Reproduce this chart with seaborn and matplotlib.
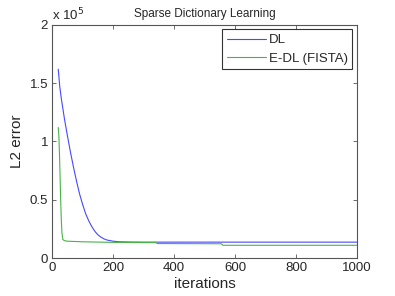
import numpy as np
import pandas as pd
import matplotlib
matplotlib.use("Agg")
import matplotlib.pyplot as plt
import seaborn as sns
from matplotlib.ticker import FuncFormatter

# values (error in units of 1e5)
dl_iter = [20, 25, 30, 40, 50, 60, 70, 80, 90, 100, 110, 120, 130, 140, 150,
           160, 170, 180, 200, 220, 250, 300, 400, 1000]
dl_err = [1.62, 1.47, 1.37, 1.20, 1.05, 0.91, 0.78, 0.66, 0.55, 0.46, 0.38, 0.32,
          0.27, 0.23, 0.20, 0.18, 0.165, 0.155, 0.145, 0.14, 0.138, 0.137, 0.137, 0.137]

edl_iter = [20, 22, 24, 26, 28, 30, 32, 35, 40, 50, 100, 200, 340, 345, 555, 560, 1000]
edl_err = [1.12, 1.05, 0.90, 0.70, 0.50, 0.33, 0.22, 0.16, 0.15, 0.145, 0.14, 0.135,
           0.133, 0.125, 0.123, 0.11, 0.11]

scale = 1e5
df = pd.concat([
    pd.DataFrame({"iterations": dl_iter, "err": np.array(dl_err) * scale, "method": "DL"}),
    pd.DataFrame({"iterations": edl_iter, "err": np.array(edl_err) * scale, "method": "E-DL (FISTA)"}),
])

sns.set_style("white")
plt.rcParams["font.family"] = ["Liberation Sans", "DejaVu Sans"]

fig = plt.figure(figsize=(3.95, 2.96), dpi=100)
ax = fig.add_axes([0.132, 0.128, 0.772, 0.788])

sns.lineplot(data=df, x="iterations", y="err", hue="method",
             palette={"DL": "#4848ff", "E-DL (FISTA)": "#48b448"},
             linewidth=0.8, ax=ax, estimator=None, sort=False)

ax.set_xlim(0, 1000)
ax.set_ylim(0, 2e5)
ax.set_xticks([0, 200, 400, 600, 800, 1000])
ax.set_yticks([0, 0.5e5, 1e5, 1.5e5, 2e5])
ax.yaxis.set_major_formatter(FuncFormatter(lambda v, p: f"{v / scale:g}"))
ax.tick_params(direction="in", length=3, width=0.6, color="#555555",
               labelsize=9.5, top=True, right=True, bottom=True, left=True, pad=3)
for s in ax.spines.values():
    s.set_color("#555555")
    s.set_linewidth(0.8)

ax.text(0.0, 1.005, r"x 10$^5$", transform=ax.transAxes, fontsize=9.5,
        ha="left", va="bottom")
ax.set_title("Sparse Dictionary Learning", fontsize=8.5, pad=6)
ax.set_xlabel("iterations", fontsize=11, labelpad=2)
ax.set_ylabel("L2 error", fontsize=11, labelpad=4)

leg = ax.legend(loc="upper right", fontsize=9.5, frameon=True, fancybox=False,
                handlelength=3.0, handletextpad=0.2, borderaxespad=0.35,
                borderpad=0.35, labelspacing=0.45)
leg.get_frame().set_edgecolor("black")
leg.get_frame().set_linewidth(0.8)

fig.savefig("out.png", dpi=100)
